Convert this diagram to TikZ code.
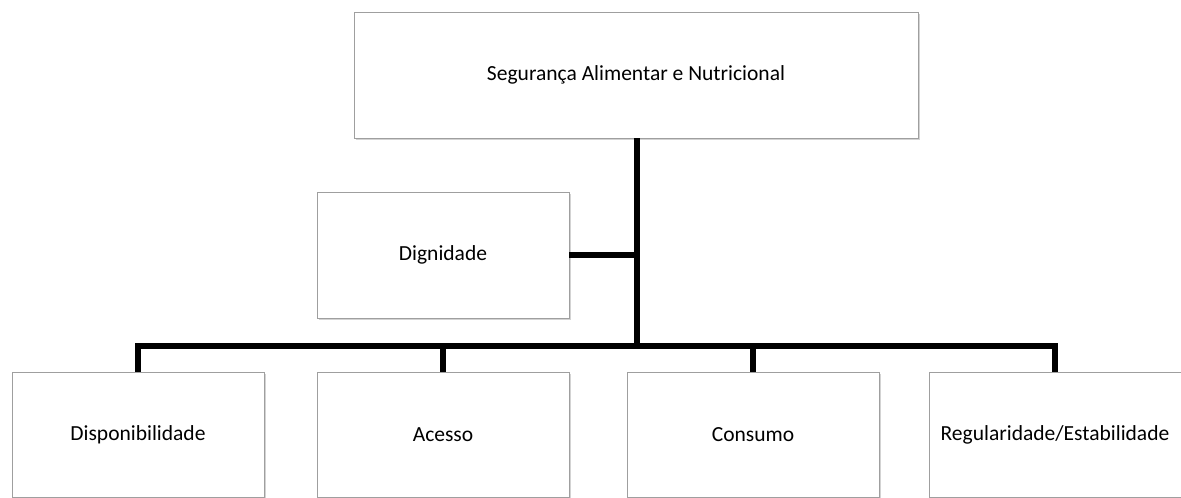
\documentclass[tikz,border=0pt]{standalone}
\usepackage{fontspec}
\setmainfont{Carlito}
\usepackage{tikz, xcolor}
\usetikzlibrary{shadows}

\begin{document}
\begin{tikzpicture}
					[
						x=0.025cm, y=-0.025cm,
						box/.style={draw=gray!75,thin,fill=white,inner sep=0pt,
							minimum width=6.3cm,minimum height=3.15cm,font=\fontsize{15.3}{17}\selectfont,
							drop shadow={shadow xshift=1.2pt,shadow yshift=-1.5pt,opacity=0.35}},
						link/.style={black,line width=3.8pt}
					]
					
					% Fix the page.
					\useasboundingbox (0,0) rectangle (1181,498);
					
					% Draw boxes.
					\node[box, minimum width=14.1cm] (san) at (636,75) {Segurança Alimentar e Nutricional};
					\node[box] (dig) at (443,255) {Dignidade};
					\node[box, minimum height=3.125cm] (disp) at (138,434.5) {Disponibilidade};
					\node[box, minimum height=3.125cm] (acesso) at (443,434.5) {Acesso};
					\node[box, minimum height=3.125cm] (consumo) at (753,434.5) {Consumo};
					\node[box, minimum height=3.125cm] (regul) at (1055,434.5) {Regularidade/Estabilidade};
					
					% Draw tree.
					\coordinate (hub) at (637,346);
					\draw[link] (san.south -| hub) -- (hub);
					\draw[link] (dig.east) -- (dig.east -| hub);
					\draw[link] (disp.north) -- (disp.north |- hub) -- (regul.north |- hub) -- (regul.north);
					\draw[link] (acesso.north) -- (acesso.north |- hub);
					\draw[link] (consumo.north) -- (consumo.north |- hub);
				\end{tikzpicture}
\end{document}
